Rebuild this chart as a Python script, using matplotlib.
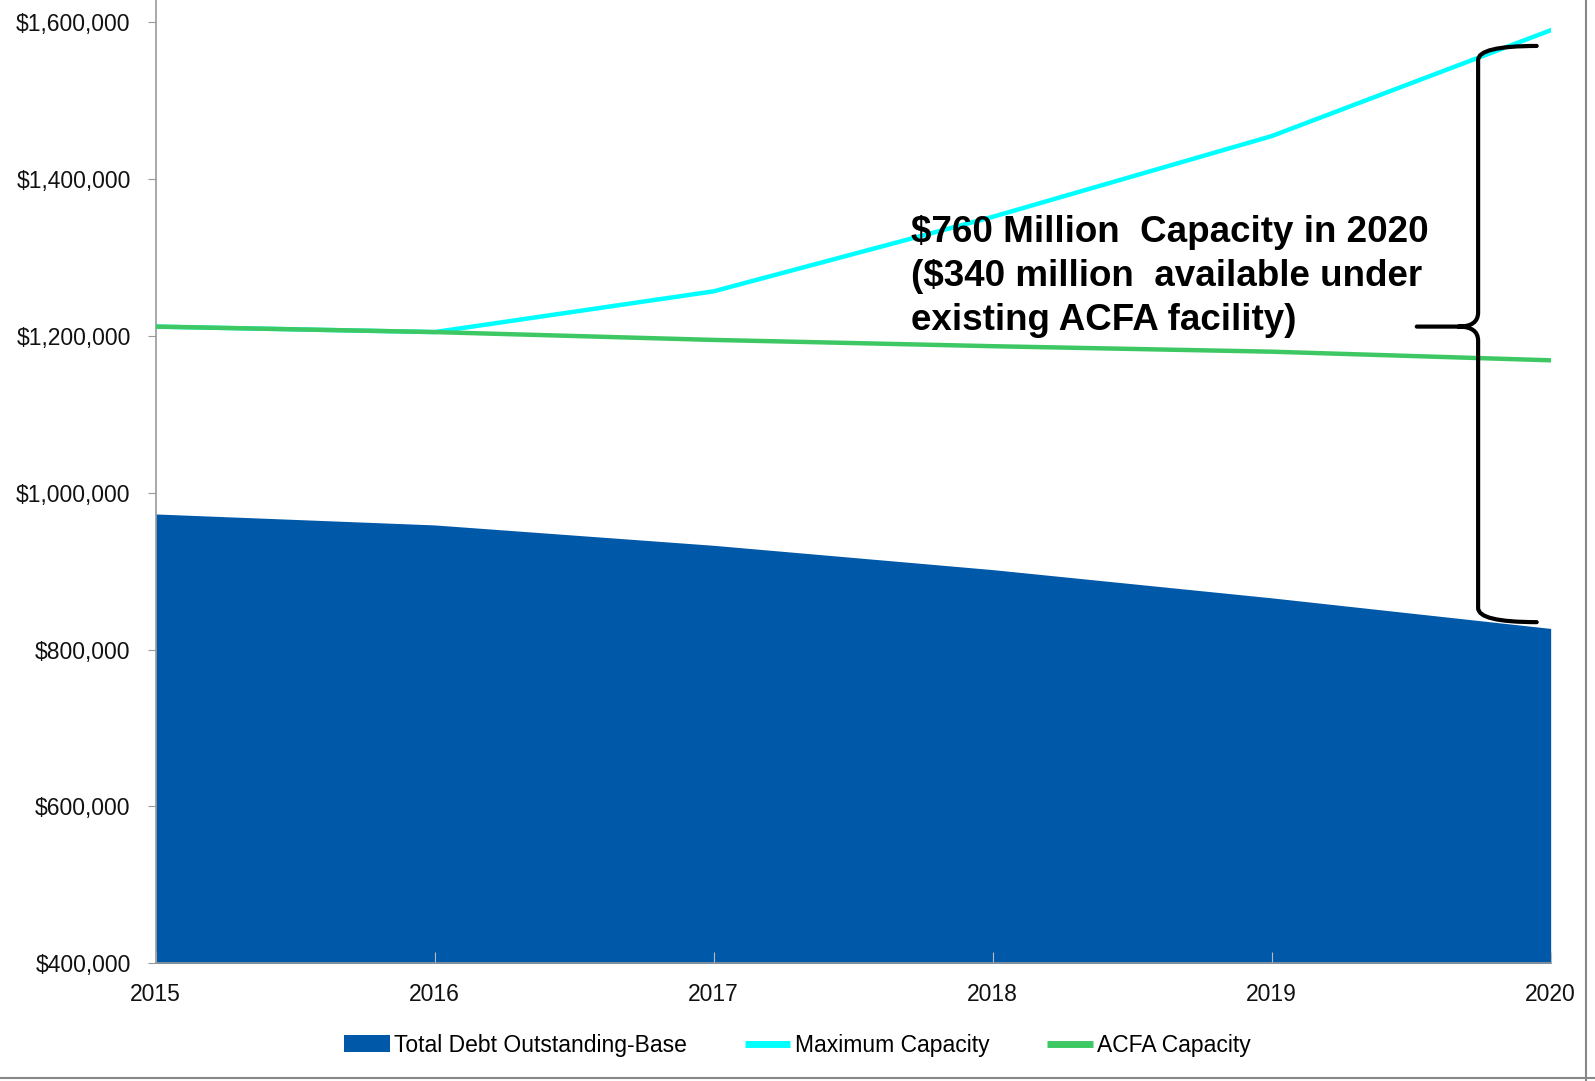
import matplotlib.pyplot as plt
from matplotlib.path import Path
from matplotlib.patches import PathPatch, Patch
from matplotlib.lines import Line2D
from matplotlib.ticker import FuncFormatter

# ==============================
# Data (values in $ thousands)
# ==============================

years = [2015, 2016, 2017, 2018, 2019, 2020]
total_debt = [973000, 959000, 933000, 902000, 866000, 827000]
max_capacity = [1212000, 1205000, 1257000, 1352000, 1455000, 1590000]
acfa_capacity = [1212000, 1205000, 1195000, 1187000, 1180000, 1169000]

label_font = ["Liberation Sans Narrow", "Liberation Sans", "DejaVu Sans"]
bold_font = ["Liberation Sans", "DejaVu Sans"]

blue = "#0058A8"
cyan = "#00FFFF"
green = "#3DC864"

# ==============================
# Figure
# ==============================

fig = plt.figure(figsize=(15.95, 10.81), dpi=100)
ax = fig.add_axes([0.0976, 0.109, 0.8746, 0.891])

ax.fill_between(years, 0, total_debt, color=blue, linewidth=0, zorder=1)
ax.plot(years, max_capacity, color=cyan, linewidth=3.2, zorder=3)
ax.plot(years, acfa_capacity, color=green, linewidth=3.2, zorder=4)

ax.set_xlim(2015, 2020)
ax.set_ylim(400000, 1628600)
ax.set_yticks([400000, 600000, 800000, 1000000, 1200000, 1400000, 1600000])
ax.set_xticks(years)
ax.yaxis.set_major_formatter(FuncFormatter(lambda v, p: "${:,.0f}".format(v)))

for s in ["top", "right"]:
    ax.spines[s].set_visible(False)
for s in ["left", "bottom"]:
    ax.spines[s].set_color("#999999")
    ax.spines[s].set_linewidth(1.2)
ax.spines["bottom"].set_zorder(5)

ax.tick_params(axis="y", direction="out", length=6, color="#999999", pad=12)
ax.tick_params(axis="x", direction="in", length=8, color="#bbbbbb", pad=14)
for lab in ax.get_xticklabels() + ax.get_yticklabels():
    lab.set_family(label_font)
    lab.set_fontsize(16.5)
    lab.set_color("#111111")

# ==============================
# Brace annotation
# ==============================

x_v = 2019.74
x_tip = 2019.95
x_mid = 2019.52
dx = 0.07
y_top = max_capacity[-1] - 20000
y_bot = total_debt[-1] + 8000
y_mid = acfa_capacity[0]
r = 18000

verts = [
    (x_tip, y_top), (x_v, y_top), (x_v, y_top - r),
    (x_v, y_mid + r), (x_v, y_mid), (x_v - dx, y_mid),
    (x_mid, y_mid),
    (x_v - dx, y_mid), (x_v, y_mid), (x_v, y_mid - r),
    (x_v, y_bot + r), (x_v, y_bot), (x_tip, y_bot),
]
codes = [
    Path.MOVETO, Path.CURVE3, Path.CURVE3,
    Path.LINETO, Path.CURVE3, Path.CURVE3,
    Path.LINETO,
    Path.MOVETO, Path.CURVE3, Path.CURVE3,
    Path.LINETO, Path.CURVE3, Path.CURVE3,
]
ax.add_patch(PathPatch(Path(verts, codes), fill=False, edgecolor="black",
                       linewidth=3, capstyle="round", zorder=6, clip_on=False))

ax.text(2017.706, 1276000,
        "$760 Million  Capacity in 2020\n($340 million  available under\nexisting ACFA facility)",
        family=bold_font, fontsize=26.5, fontweight="bold", color="black",
        ha="left", va="center", linespacing=1.33, zorder=7)

# ==============================
# Legend
# ==============================

handles = [
    Patch(facecolor=blue, edgecolor="none"),
    Line2D([0], [0], color=cyan, linewidth=5, solid_capstyle="butt"),
    Line2D([0], [0], color=green, linewidth=5, solid_capstyle="butt"),
]
labels = ["Total Debt Outstanding-Base", "Maximum Capacity", "ACFA Capacity"]
fig.legend(handles, labels, loc="center", bbox_to_anchor=(0.5, 0.033), ncol=3,
           frameon=False, prop={"family": label_font, "size": 16.5},
           handlelength=2.0, handleheight=0.75, handletextpad=0.2, columnspacing=2.5)

# figure border (right and bottom visible)
fig.add_artist(Line2D([0.9945, 0.9945], [0.0, 1.0], transform=fig.transFigure,
                      color="#888888", linewidth=1.5))
fig.add_artist(Line2D([0.0, 1.0], [0.003, 0.003], transform=fig.transFigure,
                      color="#888888", linewidth=1.5))

plt.savefig("out.png", dpi=100)
